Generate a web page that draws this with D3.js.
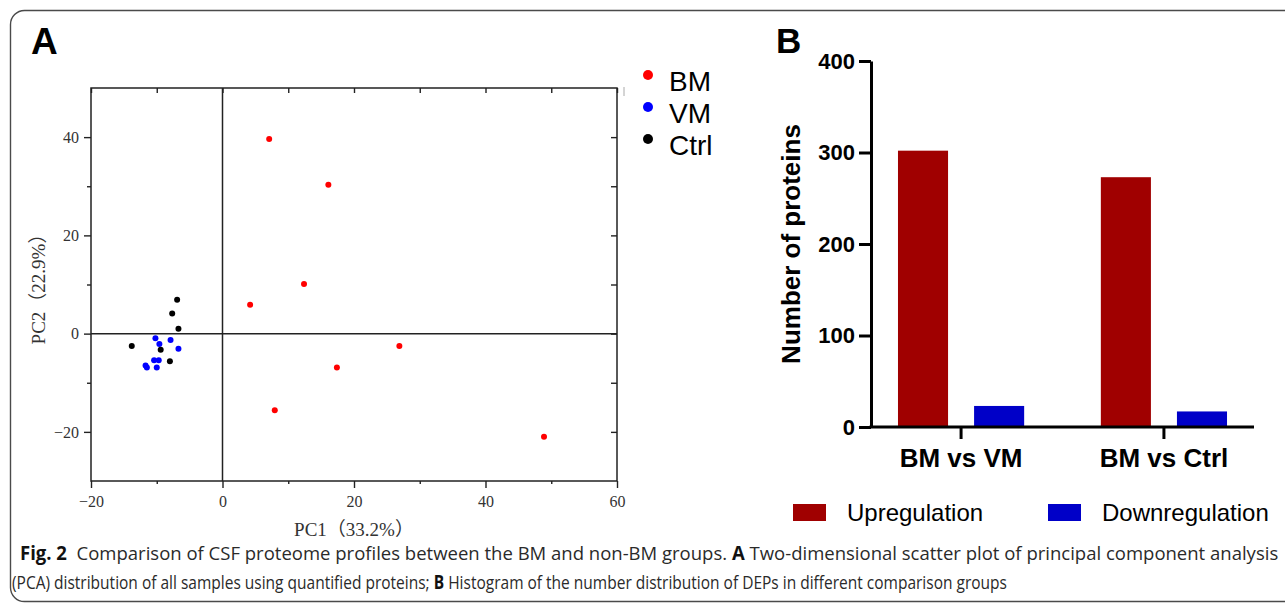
<!DOCTYPE html>
<html>
<head>
<meta charset="utf-8">
<script src="https://cdnjs.cloudflare.com/ajax/libs/d3/7.8.5/d3.min.js"></script>
<style>
  body { margin: 0; background: #fff; }
  svg { display: block; }
</style>
</head>
<body>
<svg width="1285" height="604"></svg>
<script>
    // panel A: PCA scores
    var groups = ['BM', 'VM', 'Ctrl'];
    var groupColors = ['#ff0000', '#0000ff', '#000000'];
    var bmPC1 = [7.1, 16.1, 12.4, 4.2, 26.9, 17.4, 7.95, 48.9];
    var bmPC2 = [39.6, 30.3, 10.1, 5.9, -2.5, -6.9, -15.6, -21.0];
    var vmPC1 = [-10.2, -9.6, -7.9, -6.7, -10.4, -9.7, -11.7, -11.5, -10.0];
    var vmPC2 = [-0.95, -2.1, -1.3, -3.1, -5.4, -5.4, -6.5, -6.9, -6.9];
    var ctrlPC1 = [-6.9, -7.65, -6.7, -13.8, -9.4, -8.0];
    var ctrlPC2 = [6.9, 4.1, 1.0, -2.5, -3.3, -5.6];
    var pcXTicks = [-20, 0, 20, 40, 60];
    var pcYTicks = [-20, 0, 20, 40];

    // panel B: DEP counts
    var comparisons = ['BM vs VM', 'BM vs Ctrl'];
    var series = ['Upregulation', 'Downregulation'];
    var seriesColors = ['#a00000', '#0000c8'];
    var upCounts = [302, 273];
    var downCounts = [23, 17];
    var countTicks = [0, 100, 200, 300, 400];

    var svg = d3.select('svg')

    // rounded figure frame
    svg.append('rect')
      .attr('x', 10.5).attr('y', 10.5)
      .attr('width', 1320).attr('height', 591)
      .attr('rx', 14)
      .attr('fill', 'none')
      .attr('stroke', '#4a4a4a')
      .attr('stroke-width', 1.4)

    // ---------- A ----------
    var a = { left: 91, right: 617, top: 88, bottom: 481 }

    var xScale = d3.scaleLinear().domain([-20, 60]).range([a.left, a.right])
    var yScale = d3.scaleLinear().domain([-30, 50]).range([a.bottom, a.top])

    svg.append('text')
      .attr('x', 31).attr('y', 54)
      .style('font', 'bold 37px "Liberation Sans", Arial, sans-serif')
      .text('A')

    var serif = '"Liberation Serif", "Noto Sans CJK SC", serif'

    function styleAxis(g) {
      g.select('.domain').remove()
      g.selectAll('line').attr('stroke', '#222').attr('stroke-width', 1.4)
      g.selectAll('text').style('font-family', serif).style('font-size', '16px').attr('fill', '#333')
    }

    var tens = d3.range(-20, 61, 10)
    var tensY = d3.range(-30, 51, 10)

    svg.append('g')
      .attr('transform', 'translate(' + [0, a.bottom] + ')')
      .call(d3.axisBottom(xScale).tickValues(pcXTicks).tickSize(7).tickPadding(8))
      .call(styleAxis)
    svg.append('g')
      .attr('transform', 'translate(' + [0, a.bottom] + ')')
      .call(d3.axisBottom(xScale).tickValues(tens.filter(d => d % 20 != 0)).tickSize(3).tickFormat(''))
      .call(styleAxis)
    svg.append('g')
      .attr('transform', 'translate(' + [a.left, 0] + ')')
      .call(d3.axisLeft(yScale).tickValues(pcYTicks).tickSize(7).tickPadding(5))
      .call(styleAxis)
    svg.append('g')
      .attr('transform', 'translate(' + [a.left, 0] + ')')
      .call(d3.axisLeft(yScale).tickValues([-10, 10, 30]).tickSize(4).tickFormat(''))
      .call(styleAxis)
    svg.append('g')
      .attr('transform', 'translate(' + [0, a.top] + ')')
      .call(d3.axisTop(xScale).tickValues(tens).tickSize(-5).tickFormat(''))
      .call(styleAxis)
    svg.append('g')
      .attr('transform', 'translate(' + [a.right, 0] + ')')
      .call(d3.axisRight(yScale).tickValues(tensY.slice(1, -1)).tickSize(-6).tickFormat(''))
      .call(styleAxis)

    svg.append('rect')
      .attr('x', a.left).attr('y', a.top)
      .attr('width', a.right - a.left).attr('height', a.bottom - a.top)
      .attr('fill', 'none').attr('stroke', '#222').attr('stroke-width', 1.5)

    // zero lines
    svg.append('line')
      .attr('x1', xScale(0)).attr('x2', xScale(0))
      .attr('y1', a.top).attr('y2', a.bottom)
      .attr('stroke', '#222').attr('stroke-width', 1.5)
    svg.append('line')
      .attr('x1', a.left).attr('x2', a.right)
      .attr('y1', yScale(0)).attr('y2', yScale(0))
      .attr('stroke', '#222').attr('stroke-width', 1.5)

    // little stray mark by the top right corner
    svg.append('line')
      .attr('x1', 624).attr('x2', 624).attr('y1', 87).attr('y2', 96)
      .attr('stroke', '#aaa').attr('stroke-width', 1)

    var pcaSets = [[bmPC1, bmPC2], [vmPC1, vmPC2], [ctrlPC1, ctrlPC2]]
    pcaSets.forEach(function (set, gi) {
      svg.append('g').selectAll('circle')
        .data(set[0].map((v, i) => [v, set[1][i]]))
        .enter().append('circle')
        .attr('cx', d => xScale(d[0]))
        .attr('cy', d => yScale(d[1]))
        .attr('r', 3)
        .attr('fill', groupColors[gi])
    })

    svg.append('text')
      .attr('x', (a.left + a.right) / 2).attr('y', 536)
      .attr('text-anchor', 'middle')
      .style('font-family', serif).style('font-size', '19px').attr('fill', '#333')
      .text('PC1（33.2%）')
    svg.append('text')
      .attr('transform', 'translate(' + [45, (a.top + a.bottom) / 2] + ') rotate(-90)')
      .attr('text-anchor', 'middle')
      .style('font-family', serif).style('font-size', '19px').attr('fill', '#333')
      .text('PC2（22.9%）')

    var legA = svg.append('g').selectAll('g')
      .data(groups)
      .enter().append('g')
      .attr('transform', (d, i) => 'translate(' + [648, 75 + i * 32] + ')')
    legA.append('circle').attr('r', 5).attr('fill', (d, i) => groupColors[i])
    legA.append('text')
      .attr('x', 21).attr('y', 16)
      .style('font', '28px "Liberation Sans", Arial, sans-serif')
      .text(d => d)

    // ---------- B ----------
    var b = { left: 871, right: 1254, top: 61, bottom: 427 }

    svg.append('text')
      .attr('x', 776).attr('y', 53)
      .style('font', 'bold 35px "Liberation Sans", Arial, sans-serif')
      .text('B')

    var x0 = d3.scaleBand().domain(comparisons).range([b.left, b.right]).paddingInner(0.378).paddingOuter(0.133)
    var x1 = d3.scaleBand().domain(series).range([0, x0.bandwidth()]).paddingInner(0.342)
    var yCount = d3.scaleLinear().domain([0, 400]).range([b.bottom, b.top])

    var barGroups = svg.append('g').selectAll('g')
      .data(comparisons)
      .enter().append('g')
      .attr('transform', d => 'translate(' + [x0(d), 0] + ')')

    barGroups.selectAll('rect')
      .data((d, i) => [{ s: series[0], v: upCounts[i] }, { s: series[1], v: downCounts[i] }])
      .enter().append('rect')
      .attr('x', d => x1(d.s))
      .attr('y', d => yCount(d.v))
      .attr('width', x1.bandwidth())
      .attr('height', d => yCount(0) - yCount(d.v))
      .attr('fill', (d, i) => seriesColors[i])

    var bold = '"Liberation Sans", Arial, sans-serif'

    svg.append('g')
      .attr('transform', 'translate(' + [b.left, 0] + ')')
      .call(d3.axisLeft(yCount).tickValues(countTicks).tickSize(12).tickPadding(4).tickSizeOuter(0))
      .call(g => g.select('.domain').attr('stroke', '#000').attr('stroke-width', 3))
      .call(g => g.selectAll('line').attr('stroke', '#000').attr('stroke-width', 3))
      .call(g => g.selectAll('text').style('font-family', bold).style('font-weight', 'bold').style('font-size', '22px').attr('fill', '#000'))

    svg.append('g')
      .attr('transform', 'translate(' + [0, b.bottom] + ')')
      .call(d3.axisBottom(x0).tickSize(12).tickPadding(10).tickSizeOuter(0))
      .call(g => g.select('.domain').attr('d', 'M' + (b.left - 1.5) + ',0H' + b.right).attr('stroke', '#000').attr('stroke-width', 3))
      .call(g => g.selectAll('line').attr('stroke', '#000').attr('stroke-width', 3))
      .call(g => g.selectAll('text').style('font-family', bold).style('font-weight', 'bold').style('font-size', '26px').attr('fill', '#000'))

    svg.append('text')
      .attr('transform', 'translate(' + [800, (b.top + b.bottom) / 2] + ') rotate(-90)')
      .attr('text-anchor', 'middle')
      .style('font-family', bold).style('font-weight', 'bold').style('font-size', '26px')
      .text('Number of proteins')

    var legB = svg.append('g').selectAll('g')
      .data(series)
      .enter().append('g')
      .attr('transform', (d, i) => 'translate(' + [793 + i * 255, 504] + ')')
    legB.append('rect')
      .attr('width', 33).attr('height', 17)
      .attr('fill', (d, i) => seriesColors[i])
    legB.append('text')
      .attr('x', 54).attr('y', 17)
      .style('font', '24px "Liberation Sans", Arial, sans-serif')
      .text(d => d)

    // ---------- caption ----------
    var capLines = [
      { x: 20, y: 560, w: 1259, parts: [['Fig. 2', true], ['  Comparison of CSF proteome profiles between the BM and non-BM groups. ', false], ['A', true], [' Two-dimensional scatter plot of principal component analysis', false]] },
      { x: 12, y: 589, w: 996, parts: [['(PCA) distribution of all samples using quantified proteins; ', false], ['B', true], [' Histogram of the number distribution of DEPs in different comparison groups', false]] }
    ]

    capLines.forEach(function (line) {
      var t = svg.append('text')
        .attr('x', 0).attr('y', 0)
        .style('font-family', '"Open Sans", "Noto Sans", sans-serif')
        .style('font-size', '19px')
        .attr('fill', '#2a2a2a')
        .attr('xml:space', 'preserve')
        .style('white-space', 'pre')
      line.parts.forEach(p => {
        t.append('tspan').text(p[0]).style('font-weight', p[1] ? 'bold' : 'normal').attr('fill', p[1] ? '#111' : '#2a2a2a')
      })
      var natural = t.node().getComputedTextLength()
      t.attr('transform', 'translate(' + [line.x, line.y] + ') scale(' + (line.w / natural) + ',1)')
    })
</script>
</body>
</html>
